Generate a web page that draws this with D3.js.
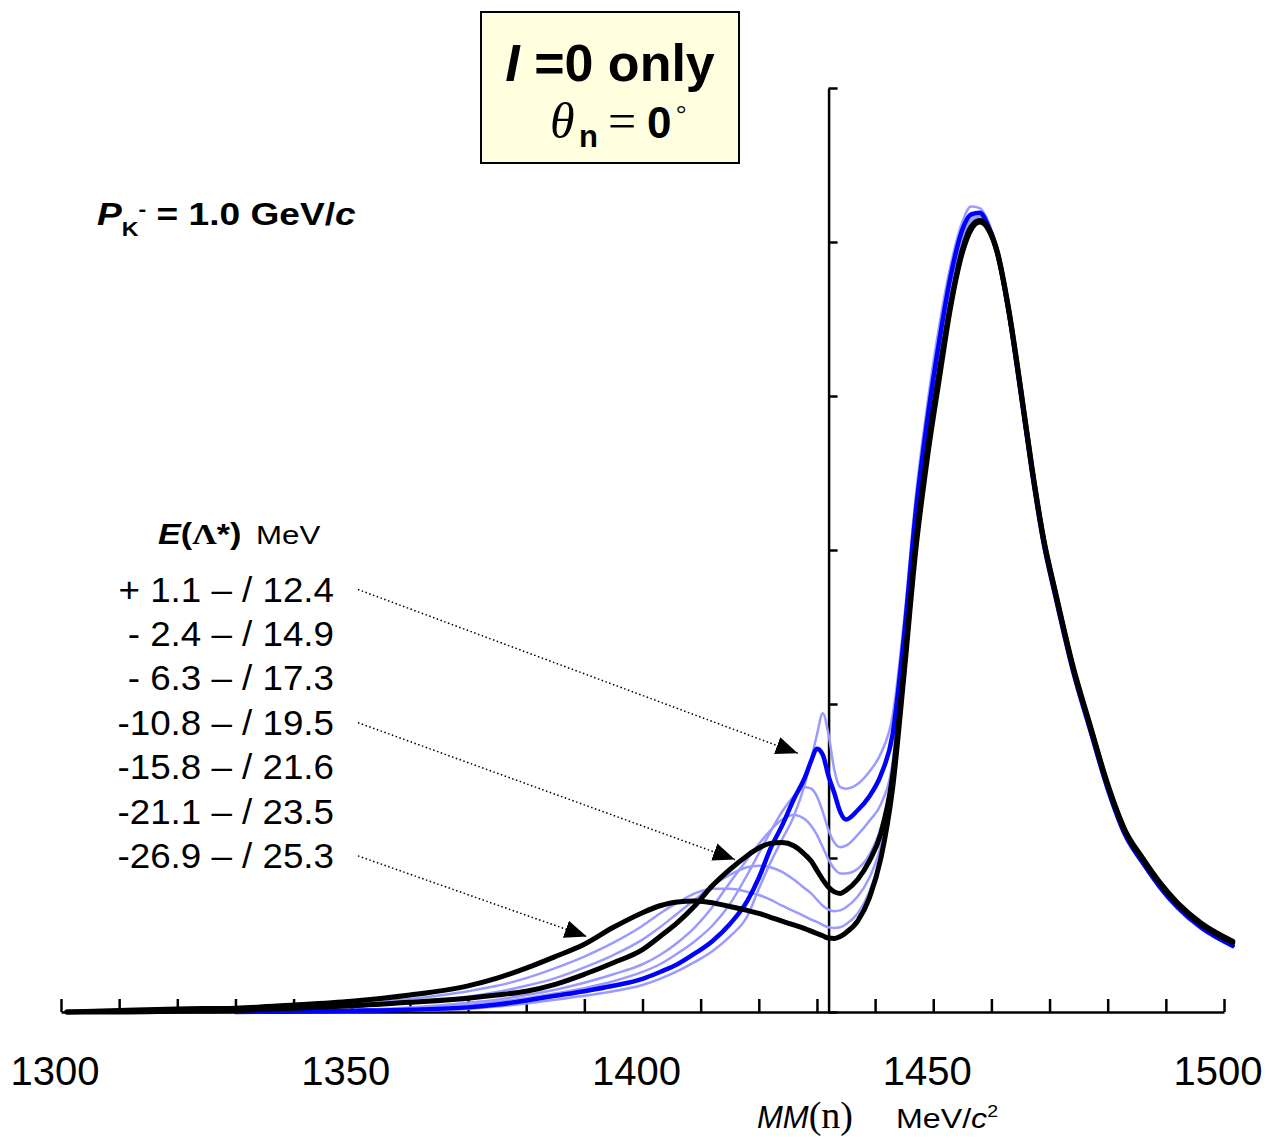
<!DOCTYPE html>
<html>
<head>
<meta charset="utf-8">
<script src="https://cdn.jsdelivr.net/npm/d3@7"></script>
<style>
  html, body { margin: 0; padding: 0; background: #ffffff; }
  svg { display: block; }
  .sans { font-family: "Liberation Sans", Arial, Helvetica, sans-serif; }
  .serif { font-family: "Liberation Serif", "Times New Roman", serif; }
</style>
</head>
<body>
<script>
// ---------------- data ----------------
const massMeV = [1301, 1310, 1320, 1330, 1340, 1350, 1360, 1370, 1375, 1380,
  1385, 1390, 1395, 1400, 1403, 1406, 1409, 1412, 1415, 1418,
  1420, 1422, 1424, 1426, 1428, 1429, 1430, 1431, 1432, 1433,
  1434, 1435, 1437, 1439, 1441, 1443, 1445, 1447, 1449, 1451,
  1453, 1455, 1456.5, 1458, 1459.5, 1461, 1463, 1465, 1467, 1469,
  1471, 1474, 1477, 1480, 1483, 1486, 1489, 1492, 1496, 1501.5];

// spectra (arbitrary units, one axis tick = 1)
const curveTop = [null, null, null, 0, 0.002, 0.005, 0.01, 0.02, 0.035, 0.055,
  0.08, 0.105, 0.135, 0.175, 0.215, 0.265, 0.325, 0.395, 0.49, 0.62,
  0.8, 0.97, 1.12, 1.27, 1.49, 1.64, 1.8, 1.94, 1.8, 1.57,
  1.46, 1.45, 1.48, 1.56, 1.68, 1.92, 2.55, 3.35, 3.95, 4.45,
  4.85, 5.13, 5.23, 5.22, 5.13, 4.95, 4.55, 4.03, 3.49, 3.03,
  2.68, 2.2, 1.81, 1.43, 1.14, 0.96, 0.8, 0.67, 0.54, 0.42];
const curveE1 = [null, null, null, 0, 0.003, 0.008, 0.015, 0.03, 0.048, 0.075,
  0.105, 0.135, 0.17, 0.215, 0.26, 0.31, 0.38, 0.46, 0.57, 0.72,
  0.87, 1.06, 1.21, 1.38, 1.53, 1.63, 1.71, 1.67, 1.53, 1.42,
  1.3, 1.25, 1.31, 1.4, 1.54, 1.8, 2.45, 3.25, 3.85, 4.35,
  4.78, 5.08, 5.18, 5.19, 5.1, 4.93, 4.54, 4.03, 3.5, 3.04,
  2.7, 2.22, 1.83, 1.45, 1.15, 0.97, 0.81, 0.68, 0.55, 0.43];
const curveE2 = [null, null, null, 0, 0.005, 0.01, 0.02, 0.045, 0.065, 0.09,
  0.12, 0.155, 0.2, 0.26, 0.31, 0.38, 0.46, 0.56, 0.7, 0.89,
  1.03, 1.17, 1.3, 1.4, 1.46, 1.45, 1.4, 1.3, 1.18, 1.1,
  1.07, 1.08, 1.15, 1.24, 1.35, 1.62, 2.4, 3.2, 3.8, 4.3,
  4.74, 5.05, 5.16, 5.17, 5.09, 4.93, 4.55, 4.04, 3.51, 3.05,
  2.71, 2.23, 1.84, 1.46, 1.16, 0.98, 0.82, 0.69, 0.56, 0.44];
const curveE3 = [null, null, null, 0.002, 0.008, 0.015, 0.03, 0.06, 0.08, 0.11,
  0.145, 0.19, 0.245, 0.31, 0.37, 0.45, 0.55, 0.68, 0.84, 0.99,
  1.09, 1.18, 1.25, 1.28, 1.25, 1.21, 1.15, 1.07, 0.99, 0.93,
  0.9, 0.9, 0.93, 1.02, 1.2, 1.55, 2.35, 3.15, 3.75, 4.25,
  4.7, 5.02, 5.14, 5.16, 5.09, 4.93, 4.55, 4.05, 3.52, 3.06,
  2.72, 2.24, 1.85, 1.47, 1.17, 0.99, 0.83, 0.7, 0.57, 0.45];
const curveE4 = [0, 0, 0.005, 0.01, 0.025, 0.04, 0.063, 0.09, 0.11, 0.135,
  0.18, 0.245, 0.32, 0.405, 0.49, 0.58, 0.69, 0.82, 0.925, 1.015,
  1.065, 1.095, 1.1, 1.08, 1.02, 0.98, 0.92, 0.86, 0.81, 0.78,
  0.77, 0.79, 0.86, 0.98, 1.16, 1.53, 2.25, 3.05, 3.65, 4.15,
  4.6, 4.95, 5.1, 5.14, 5.09, 4.94, 4.56, 4.06, 3.53, 3.07,
  2.73, 2.25, 1.86, 1.48, 1.18, 1.0, 0.84, 0.71, 0.58, 0.46];
const curveE5 = [null, null, null, 0.008, 0.02, 0.035, 0.06, 0.1, 0.13, 0.17,
  0.22, 0.29, 0.37, 0.47, 0.55, 0.64, 0.73, 0.82, 0.89, 0.94,
  0.95, 0.94, 0.91, 0.86, 0.8, 0.77, 0.73, 0.69, 0.665, 0.655,
  0.66, 0.68, 0.75, 0.87, 1.08, 1.48, 2.3, 3.1, 3.7, 4.2,
  4.65, 4.98, 5.11, 5.15, 5.09, 4.94, 4.56, 4.06, 3.53, 3.07,
  2.73, 2.25, 1.86, 1.48, 1.18, 1.0, 0.84, 0.71, 0.58, 0.46];
const curveE6 = [null, null, null, 0.012, 0.03, 0.05, 0.085, 0.135, 0.17, 0.22,
  0.285, 0.36, 0.45, 0.56, 0.64, 0.71, 0.77, 0.8, 0.8, 0.78,
  0.76, 0.73, 0.69, 0.655, 0.62, 0.6, 0.585, 0.565, 0.55, 0.545,
  0.55, 0.57, 0.64, 0.78, 1.02, 1.45, 2.25, 3.05, 3.65, 4.15,
  4.62, 4.96, 5.1, 5.14, 5.09, 4.94, 4.56, 4.06, 3.53, 3.07,
  2.73, 2.25, 1.86, 1.48, 1.18, 1.0, 0.84, 0.71, 0.58, 0.46];
const curveE7 = [0, 0.01, 0.02, 0.025, 0.045, 0.07, 0.11, 0.17, 0.22, 0.285,
  0.36, 0.44, 0.55, 0.645, 0.69, 0.715, 0.72, 0.71, 0.685, 0.66,
  0.64, 0.615, 0.59, 0.565, 0.54, 0.525, 0.51, 0.495, 0.48, 0.478,
  0.49, 0.515, 0.59, 0.74, 1.0, 1.45, 2.2, 3.0, 3.6, 4.1,
  4.58, 4.93, 5.08, 5.13, 5.08, 4.93, 4.55, 4.05, 3.52, 3.06,
  2.72, 2.24, 1.85, 1.47, 1.17, 0.99, 0.83, 0.7, 0.57, 0.45];

const legendTitle = "E(Λ*) MeV";
const legendLabels = ["+ 1.1 – / 12.4", "- 2.4 – / 14.9", "- 6.3 – / 17.3",
  "-10.8 – / 19.5", "-15.8 – / 21.6", "-21.1 – / 23.5", "-26.9 – / 25.3"];
const xTickLabels = [1300, 1350, 1400, 1450, 1500];
const xMinorTicks = d3.range(1300, 1501, 10);
const yTicks = [0, 1, 2, 3, 4, 5, 6];
const thresholdMeV = 1432;
// arrow tips (MeV, intensity) for legend rows 0, 3, 6
const arrowRows = [0, 3, 6];
const arrowTipMeV = [1426.7, 1415.9, 1390.4];
const arrowTipVal = [1.68, 0.99, 0.49];

// ---------------- drawing ----------------
const W = 1269, H = 1139;
const svg = d3.select("body").append("svg").attr("width", W).attr("height", H);
svg.append("rect").attr("width", W).attr("height", H).attr("fill", "#fff");

const x = d3.scaleLinear().domain([1300, 1500]).range([61, 1224]);
const y = d3.scaleLinear().domain([0, 6]).range([1012, 88]);

const LB = "#9b9bff", BLUE = "#0000ff", BLACK = "#000000";
const series = [
  { v: curveTop, color: LB, w: 2.5 },
  { v: curveE2, color: LB, w: 2.5 },
  { v: curveE3, color: LB, w: 2.5 },
  { v: curveE5, color: LB, w: 2.5 },
  { v: curveE6, color: LB, w: 2.5 },
  { v: curveE1, color: BLUE, w: 4.5 },
  { v: curveE4, color: BLACK, w: 5 },
  { v: curveE7, color: BLACK, w: 5 }
];

// axes
const xAxis = d3.axisBottom(x).tickValues(xMinorTicks).tickSize(-13).tickSizeOuter(0).tickFormat("");
const gx = svg.append("g").attr("transform", "translate(0,1012)").call(xAxis);
gx.selectAll("path,line").attr("stroke", "#000").attr("stroke-width", 2.5);

const yAxis = d3.axisRight(y).tickValues(yTicks).tickSize(9).tickSizeOuter(0).tickFormat("");
const gy = svg.append("g").attr("transform", `translate(${x(thresholdMeV)},0)`).call(yAxis);
gy.selectAll("path,line").attr("stroke", "#000").attr("stroke-width", 2.5);

svg.append("g").selectAll("text").data(xTickLabels).join("text")
  .attr("class", "sans").attr("x", d => x(d) - 6).attr("y", 1085)
  .attr("text-anchor", "middle").attr("font-size", 40).attr("fill", "#000")
  .text(d => d);

// curves
const line = d3.line()
  .defined(d => d[1] !== null)
  .x(d => x(d[0])).y(d => y(d[1]))
  .curve(d3.curveMonotoneX);
svg.append("g").selectAll("path").data(series).join("path")
  .attr("d", s => line(massMeV.map((m, i) => [m, s.v[i]])))
  .attr("fill", "none").attr("stroke", s => s.color).attr("stroke-width", s => s.w)
  .attr("stroke-linejoin", "round").attr("stroke-linecap", "round");

// title box
svg.append("rect").attr("x", 481).attr("y", 12).attr("width", 258).attr("height", 151)
  .attr("fill", "#ffffe0").attr("stroke", "#000").attr("stroke-width", 2);
const t1 = svg.append("text").attr("class", "sans").attr("x", 610).attr("y", 81)
  .attr("text-anchor", "middle").attr("font-size", 52).attr("font-weight", "bold");
t1.append("tspan").attr("font-style", "italic").text("I");
t1.append("tspan").text(" =0 only");
const t2 = svg.append("text").attr("y", 138).attr("font-size", 44);
t2.append("tspan").attr("class", "serif").attr("x", 550).attr("font-style", "italic").attr("font-size", 50).text("θ");
t2.append("tspan").attr("class", "sans").attr("x", 579).attr("dy", 9).attr("font-weight", "bold").attr("font-size", 31).text("n");
t2.append("tspan").attr("class", "serif").attr("x", 608).attr("dy", -9).attr("font-size", 50).text("=");
t2.append("tspan").attr("class", "sans").attr("x", 647).attr("font-weight", "bold").attr("font-size", 44).text("0");
t2.append("tspan").attr("class", "serif").attr("x", 676).attr("dy", -16).attr("font-size", 26).text("°");

// P_K label
const pk = svg.append("g").attr("transform", "translate(97,225) scale(1.16,1)")
  .append("text").attr("class", "sans").attr("font-weight", "bold").attr("font-size", 32);
pk.append("tspan").attr("font-style", "italic").text("P");
pk.append("tspan").attr("font-size", 20).attr("dy", 11).text("K");
pk.append("tspan").attr("font-size", 20).attr("dy", -20).text("-");
pk.append("tspan").attr("dy", 9).text(" = 1.0 GeV/");
pk.append("tspan").attr("font-style", "italic").text("c");

// legend title
const lt = svg.append("g").attr("transform", "translate(158,544) scale(1.14,1)")
  .append("text").attr("class", "sans").attr("font-weight", "bold").attr("font-size", 30);
lt.append("tspan").attr("font-style", "italic").text(legendTitle.slice(0, 1));
lt.append("tspan").text("(");
lt.append("tspan").attr("class", "serif").text(legendTitle.slice(2, 3));
lt.append("tspan").text(legendTitle.slice(3, 5));
svg.append("g").attr("transform", "translate(256,544) scale(1.25,1)")
  .append("text").attr("class", "sans").attr("font-size", 25).text(legendTitle.slice(6));

// legend rows
const rowY = i => 601.5 + i * 44.4;
legendLabels.forEach((lab, i) => {
  svg.append("g").attr("transform", `translate(334,${rowY(i)}) scale(1.05,1)`)
    .append("text").attr("class", "sans").attr("font-size", 35)
    .attr("text-anchor", "end").text(lab);
});

// arrows
const defs = svg.append("defs");
defs.append("marker").attr("id", "ah").attr("viewBox", "0 -10 22 20")
  .attr("refX", 22).attr("refY", 0).attr("markerWidth", 22).attr("markerHeight", 20)
  .attr("markerUnits", "userSpaceOnUse").attr("orient", "auto")
  .append("path").attr("d", "M0,-9 L22,0 L0,9 Z").attr("fill", "#000");
arrowRows.forEach((r, k) => {
  svg.append("line")
    .attr("x1", 358).attr("y1", rowY(r) - 12)
    .attr("x2", x(arrowTipMeV[k])).attr("y2", y(arrowTipVal[k]))
    .attr("stroke", "#000").attr("stroke-width", 1.5)
    .attr("stroke-dasharray", "1.5,2.5")
    .attr("marker-end", "url(#ah)");
});

// x-axis title
const xt = svg.append("text").attr("y", 1128);
xt.append("tspan").attr("class", "sans").attr("x", 757).attr("font-style", "italic").attr("font-size", 31).text("MM");
xt.append("tspan").attr("class", "serif").attr("font-size", 38).text("(n)");
const xu = svg.append("g").attr("transform", "translate(896,1128) scale(1.15,1)")
  .append("text").attr("class", "sans").attr("font-size", 28);
xu.append("tspan").text("MeV/");
xu.append("tspan").attr("font-style", "italic").text("c");
xu.append("tspan").attr("font-size", 17).attr("dy", -11).text("2");
</script>
</body>
</html>
